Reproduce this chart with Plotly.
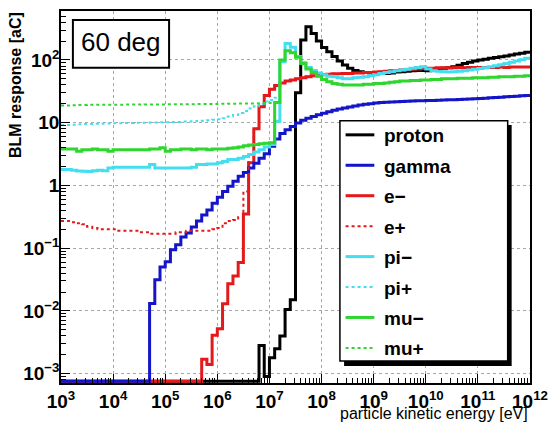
import numpy as np
import plotly.graph_objects as go

# ---------------- data (bin contents, 10 log-bins per decade from 1e3 eV) ----------------
LOG_E_MIN = 3.0
BIN_WIDTH_DEC = 0.1
N_BINS = 90

proton = [0] * 38 + [
    0.0028, 0.0009, 0.0018, 0.0025, 0.004, 0.0105, 0.015, 30, 208, 338,
    265, 200, 158, 135, 113, 96, 83, 74, 68, 65,
    63, 62, 61, 61, 61, 62, 64, 65, 66, 67,
    68, 68, 67, 69, 71, 74, 75, 78, 82, 88,
    92, 96, 100, 103, 106, 109, 112, 116, 120, 124,
    128, 132]

gamma = [0] * 17 + [
    0.0131, 0.0314, 0.050,
    0.061, 0.094, 0.113, 0.151, 0.175, 0.218, 0.271, 0.338, 0.406, 0.52,
    0.65, 0.80, 0.97, 1.17, 1.40, 1.60, 1.90, 2.25, 2.70, 3.20,
    4.2, 5.5, 6.7, 7.7, 8.7, 9.9, 10.9, 11.8, 12.6, 13.4,
    14.2, 15.0, 15.8, 16.5, 17.2, 17.8, 18.5, 19.1, 19.6, 20.1,
    20.5, 20.9, 21.2, 21.4, 21.6, 21.8, 22.0, 22.1, 22.3, 22.4,
    22.5, 22.6, 22.7, 22.9, 23.1, 23.3, 23.5, 23.7, 23.9, 24.1,
    24.4, 24.6, 24.9, 25.2, 25.5, 25.8, 26.1, 26.4, 26.8, 27.1]

e_minus = [0] * 27 + [
    0.0017, 0.0014, 0.0041,
    0.0052, 0.013, 0.027, 0.036, 0.059, 0.35, 2.3, 8.0, 18, 27,
    34, 39, 43, 46, 48, 50, 52, 54, 56, 57,
    58, 59, 60, 60, 61, 61, 62, 62, 63, 63,
    64, 65, 66, 67, 68, 69, 70, 71, 72, 73,
    74, 74, 75, 75, 75, 75, 76, 75, 76, 76,
    76, 76, 76, 76, 77, 76, 77, 77, 77, 77]

e_plus = [
    0.27, 0.27, 0.26, 0.25, 0.24, 0.22, 0.21, 0.20, 0.20, 0.20,
    0.20, 0.19, 0.19, 0.19, 0.19, 0.18, 0.18, 0.17, 0.17, 0.17,
    0.17, 0.17, 0.18, 0.18, 0.19, 0.19, 0.19, 0.19, 0.19, 0.20,
    0.21, 0.25, 0.27, 0.28, 0.31, 0.8, 3.0, 8.0, 18, 27,
    34, 39, 43, 46, 48, 50, 52, 54, 56, 57,
    58, 59, 60, 60, 61, 61, 62, 62, 63, 63,
    64, 65, 66, 67, 68, 69, 70, 71, 72, 73,
    74, 74, 75, 75, 75, 75, 76, 75, 76, 76,
    76, 76, 76, 76, 77, 76, 77, 77, 77, 77]

pi_minus = [
    1.80, 1.80, 1.75, 1.70, 1.68, 1.66, 1.72, 1.75, 1.72, 1.90,
    1.95, 1.95, 1.95, 1.95, 1.95, 1.95, 1.95, 2.15, 1.90, 1.90,
    1.90, 1.90, 1.90, 1.90, 1.90, 1.95, 2.15, 2.15, 2.20, 2.20,
    2.3, 2.4, 2.6, 2.6, 2.7, 2.9, 3.1, 3.4, 3.7, 4.1,
    4.5, 10.5, 94, 183, 160, 113, 90, 76, 68, 62,
    58, 55, 54, 52, 50, 50, 52, 53, 54, 56,
    58, 61, 63, 65, 67, 69, 71, 74, 76, 78,
    72, 67, 66, 65, 64, 65, 66, 67, 69, 71,
    73, 75, 78, 81, 84, 88, 92, 96, 101, 106]

pi_plus = [
    9.2, 9.2, 9.3, 9.4, 9.5, 9.5, 9.6, 9.6, 9.7, 9.7,
    9.8, 9.8, 9.9, 9.9, 10.0, 10.0, 10.0, 10.1, 10.1, 10.2,
    10.2, 10.3, 10.3, 10.4, 10.4, 10.5, 10.6, 10.7, 10.9, 11.1,
    11.3, 11.8, 12.5, 13.3, 14.3, 15.3, 16.8, 18.2, 20.0, 21.8,
    23.0, 25.0, 94, 183, 160, 113, 90, 76, 68, 62,
    58, 55, 54, 52, 50, 50, 52, 53, 54, 56,
    58, 61, 63, 65, 67, 69, 71, 74, 76, 78,
    72, 67, 66, 65, 64, 65, 66, 67, 69, 71,
    73, 75, 78, 81, 84, 88, 92, 96, 101, 106]

mu_minus = [
    3.8, 3.8, 3.8, 3.5, 3.7, 3.7, 3.8, 3.7, 3.7, 3.5,
    3.7, 3.7, 3.7, 3.7, 3.7, 3.7, 3.7, 3.8, 3.8, 4.0,
    3.5, 3.7, 3.7, 3.8, 3.8, 3.7, 3.8, 3.8, 3.7, 3.8,
    3.8, 3.8, 3.9, 4.0, 4.1, 4.3, 4.4, 4.5, 4.6, 4.7,
    4.8, 21, 100, 140, 130, 110, 88, 72, 63, 55,
    49, 45, 42, 41, 40, 40, 40, 40, 41, 41,
    42, 42, 43, 44, 45, 46, 46, 47, 47, 48,
    48, 49, 49, 50, 50, 50, 51, 51, 51, 52,
    52, 52, 53, 53, 54, 54, 54, 55, 55, 56]

mu_plus = [
    18.8, 18.8, 19.0, 19.2, 19.2, 19.3, 19.3, 19.3, 19.3, 19.3,
    19.3, 19.3, 19.4, 19.4, 19.4, 19.4, 19.5, 19.5, 19.5, 19.5,
    19.6, 19.6, 19.6, 19.7, 19.7, 19.7, 19.8, 19.8, 19.9, 19.9,
    20.0, 20.0, 20.1, 20.1, 20.2, 20.2, 20.3, 20.3, 20.4, 20.5,
    20.5, 21, 100, 140, 130, 110, 88, 72, 63, 55,
    49, 45, 42, 41, 40, 40, 40, 40, 41, 41,
    42, 42, 43, 44, 45, 46, 46, 47, 47, 48,
    48, 49, 49, 50, 50, 50, 51, 51, 51, 52,
    52, 52, 53, 53, 54, 54, 54, 55, 55, 56]

series_names = ["proton", "gamma", "e\u2212", "e+", "pi\u2212", "pi+", "mu\u2212", "mu+"]

x_tickvals = [1e3, 1e4, 1e5, 1e6, 1e7, 1e8, 1e9, 1e10, 1e11, 1e12]
x_ticktext = ["10<sup>3</sup>", "10<sup>4</sup>", "10<sup>5</sup>", "10<sup>6</sup>",
              "10<sup>7</sup>", "10<sup>8</sup>", "10<sup>9</sup>", "10<sup>10</sup>",
              "10<sup>11</sup>", "10<sup>12</sup>"]
y_tickvals = [1e-3, 1e-2, 1e-1, 1, 10, 100]
y_ticktext = ["10<sup>\u22123</sup>", "10<sup>\u22122</sup>", "10<sup>\u22121</sup>",
              "1", "10", "10<sup>2</sup>"]

title_text = "60 deg"
x_title = "particle kinetic energy [eV]"
y_title = "BLM response [aC]"

# ---------------- styling ----------------
FONT = "Liberation Sans, Arial, Helvetica, sans-serif"
W, H = 557, 429
ML, MR, MT, MB = 61, 23, 9, 46
PW, PH = W - ML - MR, H - MT - MB
Y_RANGE = [-3.149, 2.78]
FLOOR = 7.6e-4  # zero bins drawn on the bottom edge (as ROOT does on log scale)

styles = {
    "proton": dict(color="#000000", width=3, dash="solid"),
    "gamma": dict(color="#1414c8", width=3, dash="solid"),
    "e\u2212": dict(color="#e3191c", width=3, dash="solid"),
    "e+": dict(color="#e3191c", width=2, dash="dot"),
    "pi\u2212": dict(color="#45def0", width=3, dash="solid"),
    "pi+": dict(color="#45def0", width=2, dash="dot"),
    "mu\u2212": dict(color="#2fd62f", width=3, dash="solid"),
    "mu+": dict(color="#2fd62f", width=2, dash="dot"),
}
data = {
    "proton": proton, "gamma": gamma, "e\u2212": e_minus, "e+": e_plus,
    "pi\u2212": pi_minus, "pi+": pi_plus, "mu\u2212": mu_minus, "mu+": mu_plus,
}
draw_order = ["proton", "e\u2212", "gamma", "e+", "pi\u2212", "pi+", "mu\u2212", "mu+"]

edges = 10 ** (LOG_E_MIN + BIN_WIDTH_DEC * np.arange(N_BINS + 1))

fig = go.Figure()
for name in draw_order:
    vals = np.array(data[name], dtype=float)
    vals = np.where(vals <= 0, FLOOR, vals)
    yv = np.append(vals, vals[-1])
    st = styles[name]
    fig.add_trace(go.Scatter(
        x=edges, y=yv, mode="lines", name=name,
        line=dict(color=st["color"], width=st["width"], dash=st["dash"], shape="hv"),
        hoverinfo="skip", showlegend=False))


def px(xp):
    return (xp - ML) / PW


def py(yp):
    return (H - MB - yp) / PH


shapes = []
annotations = []

# title box
shapes.append(dict(type="rect", xref="paper", yref="paper", x0=px(73), x1=px(170),
                   y0=py(66), y1=py(18), fillcolor="white",
                   line=dict(color="black", width=2), layer="above"))
annotations.append(dict(text=title_text, xref="paper", yref="paper", x=px(121.5), y=py(40),
                        xanchor="center", yanchor="middle", showarrow=False,
                        font=dict(family=FONT, size=26, color="black")))

# legend box with shadow
shapes.append(dict(type="rect", xref="paper", yref="paper", x0=px(346.5), x1=px(515.5),
                   y0=py(366), y1=py(123.5), fillcolor="black",
                   line=dict(color="black", width=0), layer="above"))
shapes.append(dict(type="rect", xref="paper", yref="paper", x0=px(342.3), x1=px(511.5),
                   y0=py(361), y1=py(119.3), fillcolor="white",
                   line=dict(color="black", width=1.5), layer="above"))
for k, name in enumerate(series_names):
    yc = 134.5 + 30.6 * k
    st = styles[name]
    shapes.append(dict(type="line", xref="paper", yref="paper", x0=px(348), x1=px(377),
                       y0=py(yc - 1), y1=py(yc - 1),
                       line=dict(color=st["color"], width=st["width"], dash=st["dash"]),
                       layer="above"))
    annotations.append(dict(text=name, xref="paper", yref="paper", x=px(385), y=py(yc),
                            xanchor="left", yanchor="middle", showarrow=False,
                            font=dict(family=FONT, size=19, color="black", weight="bold")))

# axis titles
annotations.append(dict(text=y_title, xref="paper", yref="paper", x=px(15), y=py(83),
                        xanchor="center", yanchor="middle", textangle=-90, showarrow=False,
                        font=dict(family=FONT, size=16, color="black", weight="bold")))
annotations.append(dict(text=x_title, xref="paper", yref="paper", x=px(534), y=py(413.5),
                        xanchor="right", yanchor="middle", showarrow=False,
                        font=dict(family=FONT, size=16, color="black")))

axis_common = dict(
    type="log", tickmode="array", ticks="inside", ticklen=9, tickwidth=1, tickcolor="black",
    minor=dict(ticks="inside", ticklen=5, tickwidth=1, tickcolor="black", dtick="D1",
               showgrid=False),
    showgrid=True, gridcolor="#a8a8a8", griddash="dot", gridwidth=1,
    showline=True, linecolor="black", linewidth=1.5, mirror=True,
    tickfont=dict(family=FONT, size=19, color="black", weight="bold"),
    zeroline=False,
)

fig.update_layout(
    width=W, height=H, margin=dict(l=ML, r=MR, t=MT, b=MB),
    plot_bgcolor="white", paper_bgcolor="white", showlegend=False,
    xaxis=dict(range=[3, 12], tickvals=x_tickvals, ticktext=x_ticktext, **axis_common),
    yaxis=dict(range=Y_RANGE, tickvals=y_tickvals, ticktext=y_ticktext,
               ticklabelstandoff=-4, **axis_common),
    shapes=shapes, annotations=annotations,
)

fig.write_html("out.html")
